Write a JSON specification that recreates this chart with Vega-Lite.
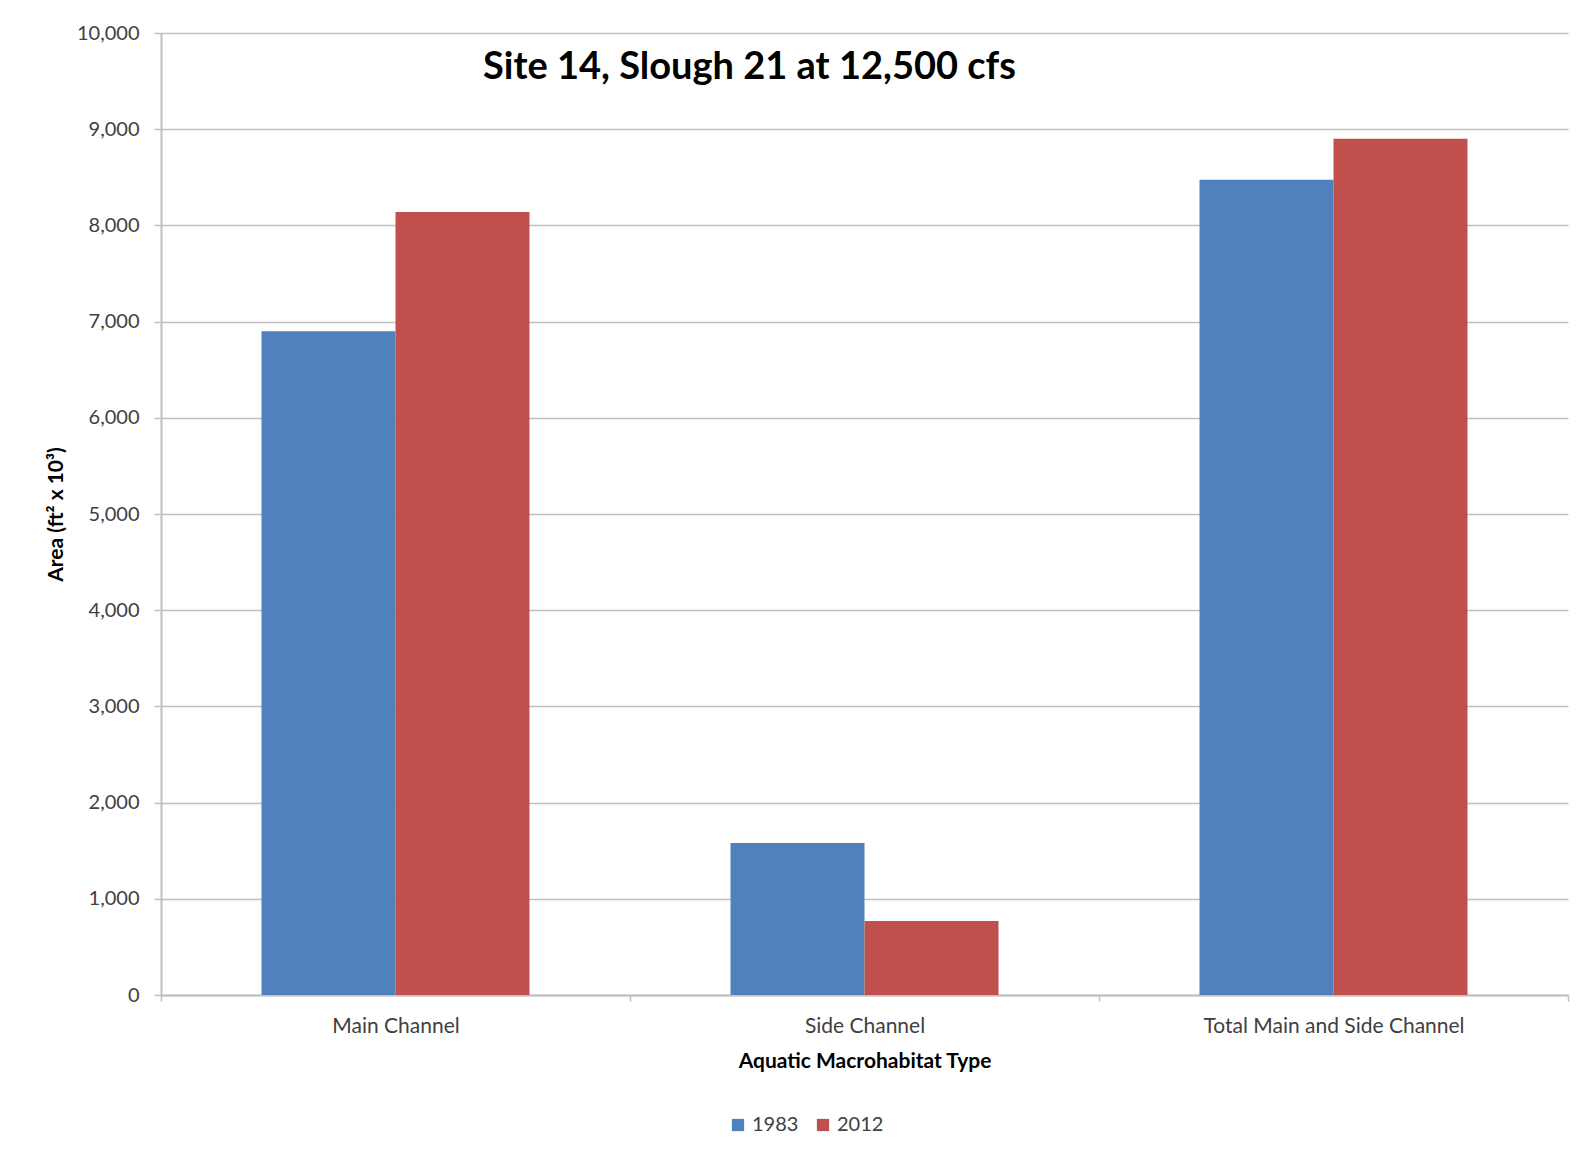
{
  "$schema": "https://vega.github.io/schema/vega-lite/v6.json",
  "width": 1407,
  "height": 962,
  "autosize": "none",
  "padding": {"left": 161, "top": 33, "right": 8, "bottom": 158},
  "background": "white",
  "title": {
    "text": "Site 14, Slough 21 at 12,500 cfs",
    "anchor": "middle",
    "dx": -115,
    "dy": 68,
    "fontSize": 38,
    "font": "Lato",
    "fontWeight": "bold",
    "color": "#000000"
  },
  "data": {
    "values": [
      {"type": "Main Channel", "year": "1983", "area": 6900},
      {"type": "Main Channel", "year": "2012", "area": 8140},
      {"type": "Side Channel", "year": "1983", "area": 1580},
      {"type": "Side Channel", "year": "2012", "area": 770},
      {"type": "Total Main and Side Channel", "year": "1983", "area": 8475},
      {"type": "Total Main and Side Channel", "year": "2012", "area": 8900}
    ]
  },
  "mark": {"type": "bar"},
  "encoding": {
    "x": {
      "field": "type",
      "type": "nominal",
      "sort": null,
      "title": "Aquatic Macrohabitat Type",
      "scale": {"paddingInner": 0, "paddingOuter": 0},
      "axis": {
        "labelAngle": 0,
        "labelLimit": 0,
        "tickBand": "extent",
        "labelFontSize": 21,
        "labelFont": "Lato",
        "labelColor": "#404040",
        "labelPadding": 14,
        "titleFont": "Lato",
        "titleFontSize": 21,
        "titleFontWeight": "bold",
        "titleColor": "#000000",
        "titlePadding": 14,
        "domainColor": "#bfbfbf",
        "domainWidth": 2,
        "tickColor": "#bfbfbf",
        "tickSize": 6,
        "tickWidth": 1.5,
        "grid": false
      }
    },
    "xOffset": {
      "field": "year",
      "type": "nominal",
      "scale": {"paddingInner": 0, "paddingOuter": 0.75}
    },
    "y": {
      "field": "area",
      "type": "quantitative",
      "title": "Area (ft² x 10³)",
      "scale": {"domain": [0, 10000], "nice": false},
      "axis": {
        "values": [0, 1000, 2000, 3000, 4000, 5000, 6000, 7000, 8000, 9000, 10000],
        "format": ",.0f",
        "labelFontSize": 20,
        "labelFont": "Lato",
        "labelColor": "#404040",
        "labelPadding": 15,
        "titleFont": "Lato",
        "titleFontSize": 21,
        "titleFontWeight": "bold",
        "titleColor": "#000000",
        "titlePadding": 10,
        "domainColor": "#bfbfbf",
        "domainWidth": 2,
        "tickColor": "#bfbfbf",
        "tickSize": 7,
        "tickWidth": 1.5,
        "grid": true,
        "gridColor": "#bfbfbf",
        "gridWidth": 1.5
      }
    },
    "color": {
      "field": "year",
      "type": "nominal",
      "title": null,
      "scale": {"domain": ["1983", "2012"], "range": ["#4f81bd", "#c0504d"]},
      "legend": {
        "orient": "none",
        "direction": "horizontal",
        "legendX": 567,
        "legendY": 1082,
        "symbolType": "square",
        "symbolSize": 150,
        "labelFontSize": 20,
        "labelFont": "Lato",
        "labelColor": "#404040",
        "columnPadding": 14,
        "labelOffset": 4
      }
    }
  },
  "config": {
    "view": {"stroke": null}
  }
}
